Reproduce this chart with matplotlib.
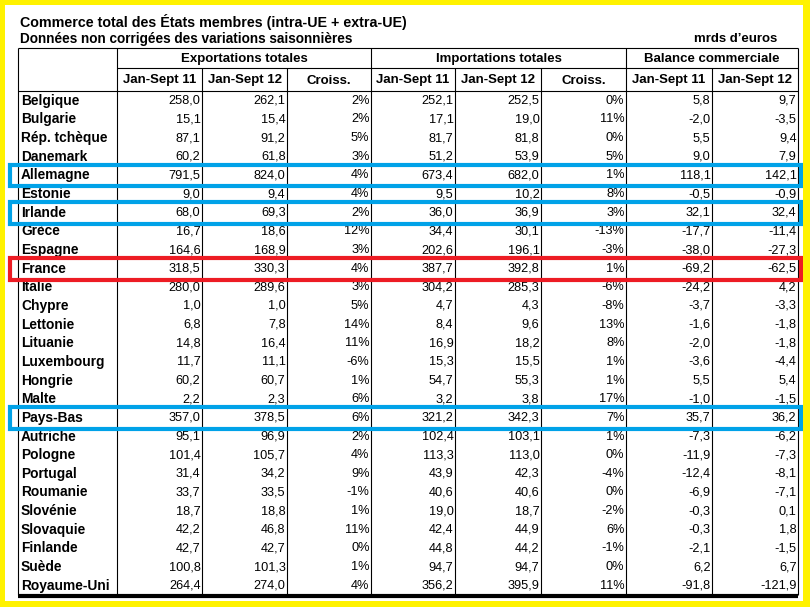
import matplotlib
matplotlib.use("Agg")
import matplotlib.pyplot as plt
from matplotlib.patches import Rectangle

plt.rcParams['font.family'] = ['Liberation Sans', 'DejaVu Sans']

title = "Commerce total des États membres (intra-UE + extra-UE)"
subtitle = "Données non corrigées des variations saisonnières"
unit = "mrds d\u2019euros"
groups = ["Exportations totales", "Importations totales", "Balance commerciale"]
sub_headers = ["Jan-Sept 11", "Jan-Sept 12", "Croiss.",
               "Jan-Sept 11", "Jan-Sept 12", "Croiss.",
               "Jan-Sept 11", "Jan-Sept 12"]

countries = ["Belgique", "Bulgarie", "Rép. tchèque", "Danemark", "Allemagne", "Estonie",
             "Irlande", "Grèce", "Espagne", "France", "Italie", "Chypre", "Lettonie",
             "Lituanie", "Luxembourg", "Hongrie", "Malte", "Pays-Bas", "Autriche",
             "Pologne", "Portugal", "Roumanie", "Slovénie", "Slovaquie", "Finlande",
             "Suède", "Royaume-Uni"]
exp11 = [258.0, 15.1, 87.1, 60.2, 791.5, 9.0, 68.0, 16.7, 164.6, 318.5, 280.0, 1.0, 6.8,
         14.8, 11.7, 60.2, 2.2, 357.0, 95.1, 101.4, 31.4, 33.7, 18.7, 42.2, 42.7, 100.8, 264.4]
exp12 = [262.1, 15.4, 91.2, 61.8, 824.0, 9.4, 69.3, 18.6, 168.9, 330.3, 289.6, 1.0, 7.8,
         16.4, 11.1, 60.7, 2.3, 378.5, 96.9, 105.7, 34.2, 33.5, 18.8, 46.8, 42.7, 101.3, 274.0]
exp_growth = [2, 2, 5, 3, 4, 4, 2, 12, 3, 4, 3, 5, 14, 11, -6, 1, 6, 6, 2, 4, 9, -1, 1, 11, 0, 1, 4]
imp11 = [252.1, 17.1, 81.7, 51.2, 673.4, 9.5, 36.0, 34.4, 202.6, 387.7, 304.2, 4.7, 8.4,
         16.9, 15.3, 54.7, 3.2, 321.2, 102.4, 113.3, 43.9, 40.6, 19.0, 42.4, 44.8, 94.7, 356.2]
imp12 = [252.5, 19.0, 81.8, 53.9, 682.0, 10.2, 36.9, 30.1, 196.1, 392.8, 285.3, 4.3, 9.6,
         18.2, 15.5, 55.3, 3.8, 342.3, 103.1, 113.0, 42.3, 40.6, 18.7, 44.9, 44.2, 94.7, 395.9]
imp_growth = [0, 11, 0, 5, 1, 8, 3, -13, -3, 1, -6, -8, 13, 8, 1, 1, 17, 7, 1, 0, -4, 0, -2, 6, -1, 0, 11]
bal11 = [5.8, -2.0, 5.5, 9.0, 118.1, -0.5, 32.1, -17.7, -38.0, -69.2, -24.2, -3.7, -1.6,
         -2.0, -3.6, 5.5, -1.0, 35.7, -7.3, -11.9, -12.4, -6.9, -0.3, -0.3, -2.1, 6.2, -91.8]
bal12 = [9.7, -3.5, 9.4, 7.9, 142.1, -0.9, 32.4, -11.4, -27.3, -62.5, 4.2, -3.3, -1.8,
         -1.8, -4.4, 5.4, -1.5, 36.2, -6.2, -7.3, -8.1, -7.1, 0.1, 1.8, -1.5, 6.7, -121.9]

blue_rows = ["Allemagne", "Irlande", "Pays-Bas"]
red_rows = ["France"]


def fmt_num(v):
    return f"{v:.1f}".replace(".", ",")


def fmt_pct(v):
    return f"{v:d}%"


# layout in pixels
W, H = 810, 607
col_edges = [18, 117, 202, 287, 371, 455, 541, 626, 712, 798]
group_edges = [117, 371, 626, 798]
y_top, y_group, y_head = 48, 68, 91
row_h = 18.65
n = len(countries)
y_bottom = y_head + row_h * n

fig = plt.figure(figsize=(W / 100, H / 100), dpi=100)
ax = fig.add_axes([0, 0, 1, 1])
ax.set_xlim(0, W)
ax.set_ylim(H, 0)
ax.axis("off")

lw1 = 0.8
# horizontal rules
ax.hlines(y_top, col_edges[0], col_edges[-1], color="black", lw=lw1)
ax.hlines(y_group, col_edges[1], col_edges[-1], color="black", lw=lw1)
ax.hlines(y_head, col_edges[0], col_edges[-1], color="black", lw=lw1)
ax.hlines(y_bottom + 1.5, col_edges[0], col_edges[-1], color="black", lw=3.0)
# vertical rules
for x in col_edges:
    top = y_top if (x in group_edges or x == col_edges[0]) else y_group
    ax.vlines(x, top, y_bottom, color="black", lw=lw1)

# titles
ax.text(20, 22, title, fontsize=10.3, fontweight="bold", va="center", ha="left")
ax.text(20, 39, subtitle, fontsize=9.8, fontweight="bold", va="center", ha="left")
ax.text(777, 39, unit, fontsize=9.5, fontweight="bold", va="center", ha="right")

for g, (x0, x1) in zip(groups, zip(group_edges[:-1], group_edges[1:])):
    ax.text((x0 + x1) / 2, (y_top + y_group) / 2 + 1, g, fontsize=9.5,
            fontweight="bold", ha="center", va="center")
for i, h in enumerate(sub_headers):
    x0, x1 = col_edges[i + 1], col_edges[i + 2]
    ax.text((x0 + x1) / 2, (y_group + y_head) / 2 + 1, h, fontsize=9.5,
            fontweight="bold", ha="center", va="center")

columns = [
    [fmt_num(v) for v in exp11], [fmt_num(v) for v in exp12], [fmt_pct(v) for v in exp_growth],
    [fmt_num(v) for v in imp11], [fmt_num(v) for v in imp12], [fmt_pct(v) for v in imp_growth],
    [fmt_num(v) for v in bal11], [fmt_num(v) for v in bal12],
]

for r, name in enumerate(countries):
    yc = y_head + row_h * (r + 0.5) + 0.5
    ax.text(21, yc, name, fontsize=9.9, fontweight="bold", ha="left", va="center")
    for c, col in enumerate(columns):
        ax.text(col_edges[c + 2] - 1.5, yc, col[r], fontsize=9.2, ha="right", va="center")

# highlight boxes
for names, color in [(blue_rows, "#00A2E8"), (red_rows, "#ED1C24")]:
    for name in names:
        r = countries.index(name)
        y0 = y_head + row_h * r - 1
        y1 = y_head + row_h * (r + 1) + 2
        ax.add_patch(Rectangle((9.5, y0), 791.5, y1 - y0, fill=False,
                               edgecolor=color, lw=3.0, zorder=5))

# yellow frame
yellow = "#FFF200"
for (x, y, w, h) in [(0, 0, W, 5), (0, 0, 5, H), (803, 0, 7, H), (0, 601, W, 6)]:
    ax.add_patch(Rectangle((x, y), w, h, facecolor=yellow, edgecolor="none", zorder=6))

fig.savefig("out.png", dpi=100)
